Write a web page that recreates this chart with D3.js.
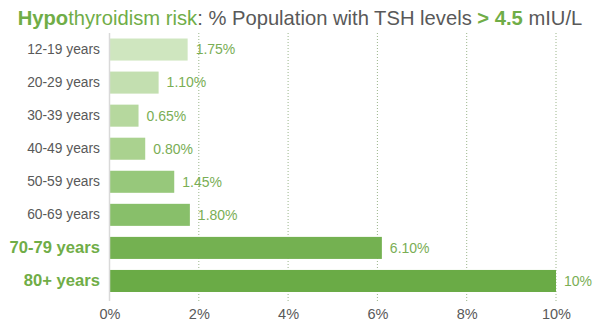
<!DOCTYPE html>
<html><head><meta charset="utf-8">
<script src="https://cdn.jsdelivr.net/npm/d3@7"></script>
<style>body{margin:0;background:#fff;}svg{display:block;font-family:"Liberation Sans",Arial,sans-serif;}</style>
</head><body><svg id="c" width="600" height="323"></svg>
<script>
const categories = ["12-19 years","20-29 years","30-39 years","40-49 years","50-59 years","60-69 years","70-79 years","80+ years"];
const values = [1.75,1.10,0.65,0.80,1.45,1.80,6.10,10];
const valueLabels = ["1.75%","1.10%","0.65%","0.80%","1.45%","1.80%","6.10%","10%"];
const highlighted = ["70-79 years","80+ years"];
const xTicks = [0,2,4,6,8,10];
const barColors = ["#cfe6bf","#c3dfb0","#b6d89e","#aad28f","#97c87b","#88bf6a","#74b151","#6aab46"];

const svg = d3.select("#c");
const x = d3.scaleLinear().domain([0,10]).range([109.5,556]);
const y = d3.scaleBand().domain(categories).range([33,297.5]).paddingInner(1/3).paddingOuter(1/6);

// gridlines
svg.append("g").selectAll("line").data(xTicks.filter(d=>d>0)).join("line")
  .attr("x1",d=>x(d)).attr("x2",d=>x(d)).attr("y1",33).attr("y2",301)
  .attr("stroke","#9bb58a").attr("stroke-width",1).attr("stroke-dasharray","1,2");

// bars
svg.append("g").selectAll("rect").data(categories).join("rect")
  .attr("x",x(0)).attr("y",d=>y(d)).attr("height",y.bandwidth())
  .attr("width",(d,i)=>x(values[i])-x(0)).attr("fill",(d,i)=>barColors[i]);

// axis line
svg.append("line").attr("x1",x(0)).attr("x2",x(0)).attr("y1",33).attr("y2",301)
  .attr("stroke","#d9d9d9").attr("stroke-width",1.5);

// category labels
const yAxis = d3.axisLeft(y).tickSize(0).tickPadding(0);
const yg = svg.append("g").attr("transform","translate(100,0)").call(yAxis);
yg.select(".domain").remove();
yg.selectAll("text")
  .attr("fill",d=>highlighted.includes(d)?"#70ad47":"#595959")
  .attr("font-weight",d=>highlighted.includes(d)?"bold":"normal")
  .attr("font-size",d=>highlighted.includes(d)?"16.6px":"13.8px")
  .attr("font-family","Liberation Sans, Arial, sans-serif");

// value labels
svg.append("g").selectAll("text").data(categories).join("text")
  .attr("x",(d,i)=>x(values[i])+8).attr("y",d=>y(d)+y.bandwidth()/2)
  .attr("dy","0.35em").attr("fill","#7aae55").attr("font-size","14px")
  .text((d,i)=>valueLabels[i]);

// x axis
const xAxis = d3.axisBottom(x).tickValues(xTicks).tickFormat(d=>d+"%").tickSize(0).tickPadding(0);
const xg = svg.append("g").attr("transform","translate(0,309)").call(xAxis);
xg.select(".domain").remove();
xg.selectAll("text").attr("fill","#595959").attr("font-size","14.5px").attr("dy","0.35em").attr("y",5)
  .attr("font-family","Liberation Sans, Arial, sans-serif");

// title
const t = svg.append("text").attr("x",300).attr("y",25).attr("text-anchor","middle").attr("font-size","20.2px");
t.append("tspan").attr("fill","#70ad47").attr("font-weight","bold").text("Hypo");
t.append("tspan").attr("fill","#70ad47").text("thyroidism risk");
t.append("tspan").attr("fill","#595959").text(": % Population with TSH levels ");
t.append("tspan").attr("fill","#70ad47").attr("font-weight","bold").text("> 4.5");
t.append("tspan").attr("fill","#595959").text(" mIU/L");
</script></body></html>
